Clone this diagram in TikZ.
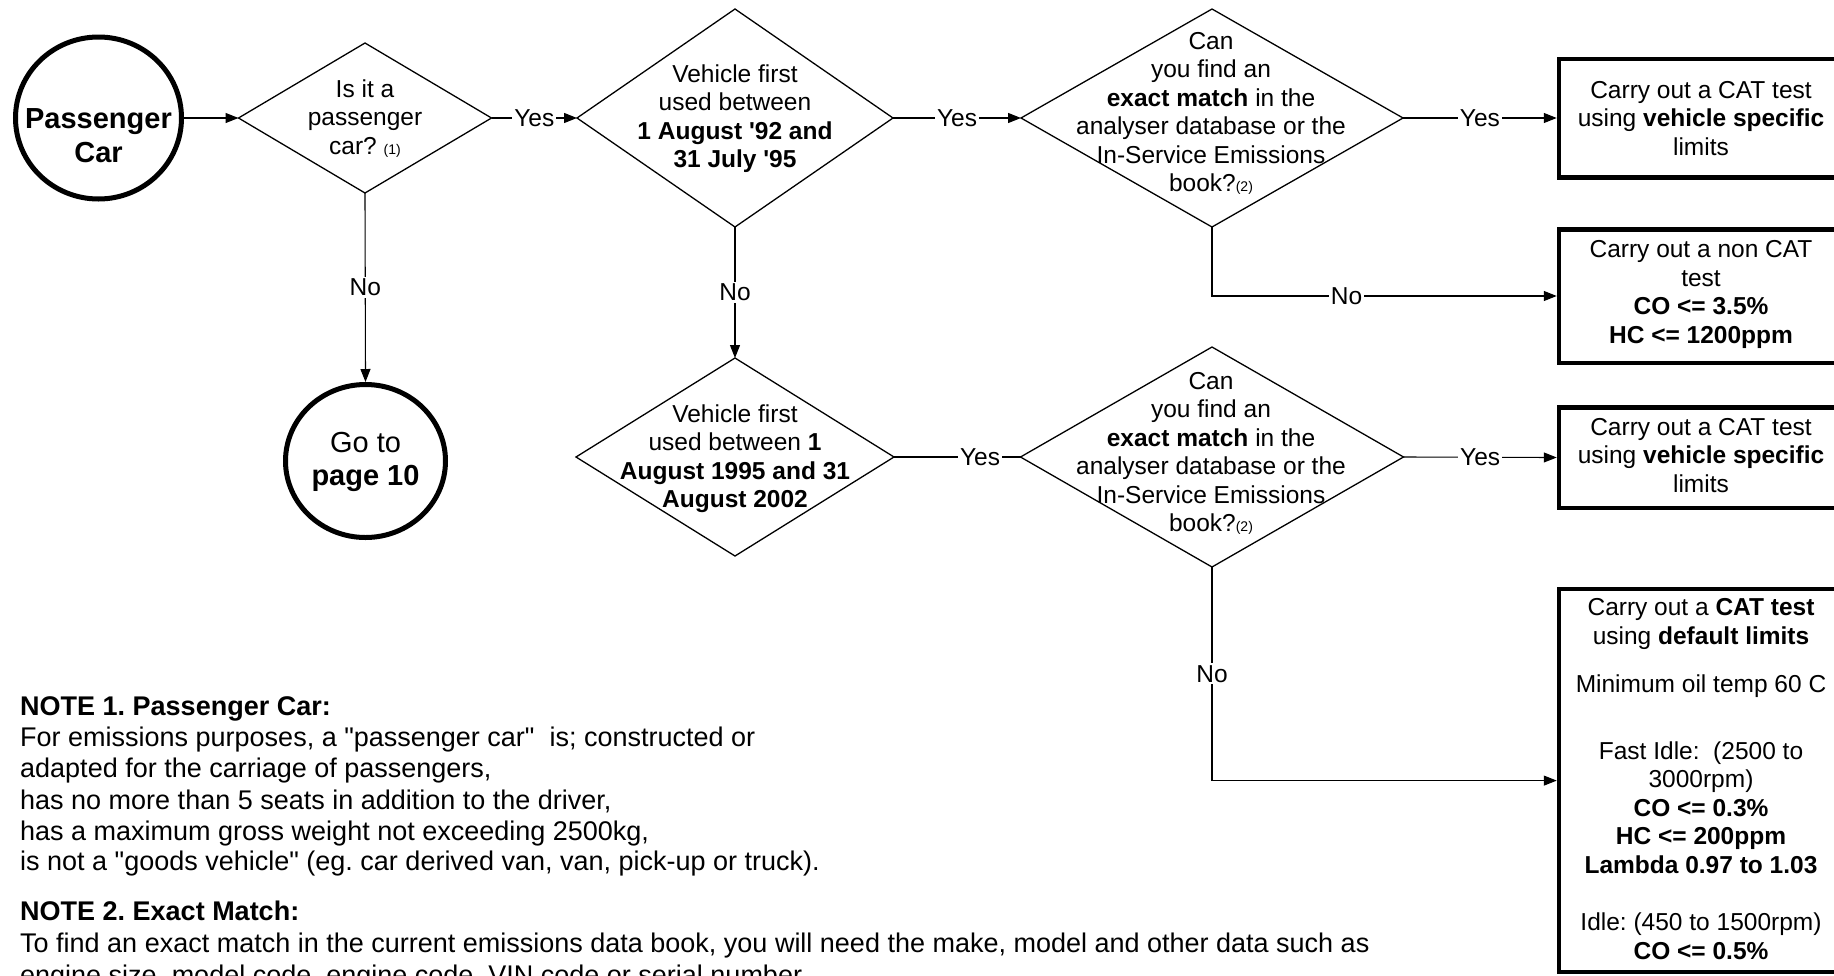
\documentclass[tikz,border=0pt]{standalone}
\usepackage{fontspec}
\setmainfont{Liberation Sans}[Ligatures=TeXOff]
\usetikzlibrary{shapes.geometric,arrows.meta}
\newcommand{\fsz}{\fontsize{24.5}{28.5}\selectfont}
\newcommand{\bigfsz}{\fontsize{29}{34}\selectfont}
\newcommand{\notefsz}{\fontsize{27}{31}\selectfont}
\newcommand{\smallref}[1]{{\fontsize{14}{14}\selectfont #1}}
\frenchspacing
\begin{document}
\begin{tikzpicture}[x=1pt,y=-1pt,font=\fsz,
  dia/.style={draw, diamond, line width=1.3pt, inner sep=0pt, outer sep=0pt},
  circ/.style={draw, ellipse, line width=5pt, inner sep=0pt},
  bx/.style={draw, rectangle, line width=4.5pt, inner sep=0pt},
  txt/.style={align=center, inner sep=0pt},
  notetxt/.style={anchor=base west, inner sep=0pt, font=\notefsz},
  conn/.style={line width=1.1pt, -{Triangle[length=13pt,width=10pt]}},
  plainconn/.style={line width=1.1pt},
  lbl/.style={fill=white, inner sep=2pt, font=\fsz}]
\useasboundingbox (0,0) rectangle (1834,975);
\clip (0,0) rectangle (1834,975);
\fill[white] (0,0) rectangle (1834,975);

% start / end circles
\node[circ, minimum width=166pt, minimum height=162pt] (pc) at (98.5,118) {};
\node[txt, font=\bigfsz\bfseries] (pct) at (98.5,136) {Passenger\\Car};
\node[circ, minimum width=160pt, minimum height=153pt] (go) at (365.5,461) {};
\node[txt, font=\fontsize{29}{33}\selectfont] (got) at (365.5,461.5) {Go to\\\textbf{page 10}};

% diamonds
\node[dia, minimum width=253pt, minimum height=150pt] (d1) at (365,118) {};
\node[dia, minimum width=316pt, minimum height=218pt] (d2) at (735,118) {};
\node[dia, minimum width=382pt, minimum height=218pt] (d3) at (1212,118) {};
\node[dia, minimum width=318pt, minimum height=198pt] (d4) at (735,457) {};
\node[dia, minimum width=383pt, minimum height=220pt] (d5) at (1212,457) {};

\node[txt] (t1) at (365,118.5) {Is it a\\passenger\\car? \smallref{(1)}};
\node[txt] (t2) at (735,118.5) {Vehicle first\\used between\\\textbf{1 August '92 and}\\\textbf{31 July '95}};
\node[txt] (t3) at (1211,113.5) {Can\\you find an\\\textbf{exact match} in the\\analyser database or the\\In-Service Emissions\\book?\smallref{(2)}};
\node[txt] (t4) at (735,458.5) {Vehicle first\\used between \textbf{1}\\\textbf{August 1995 and 31}\\\textbf{August 2002}};
\node[txt] (t5) at (1211,453.5) {Can\\you find an\\\textbf{exact match} in the\\analyser database or the\\In-Service Emissions\\book?\smallref{(2)}};

% result boxes (extend beyond the right edge)
\node[bx, minimum width=290pt, minimum height=118.5pt] (b1) at (1704,118) {};
\node[bx, minimum width=290pt, minimum height=133.5pt] (b2) at (1704,296) {};
\node[bx, minimum width=290pt, minimum height=100.5pt] (b3) at (1704,457.5) {};
\node[bx, minimum width=290pt, minimum height=382.75pt] (b4) at (1704,780.6) {};

\node[txt] (tb1) at (1701,118.5) {Carry out a CAT test\\using \textbf{vehicle specific}\\limits};
\node[txt] (tb2) at (1701,294.5) {Carry out a non CAT\\test\\\textbf{CO <= 3.5\%}\\\textbf{HC <= 1200ppm}};
\node[txt] (tb3) at (1701,455.5) {Carry out a CAT test\\using \textbf{vehicle specific}\\limits};
\node[txt] (tb4) at (1701,779) {Carry out a \textbf{CAT test}\\using \textbf{default limits}\\[20pt]Minimum oil temp 60 C\\[38pt]Fast Idle:\ \ (2500 to\\3000rpm)\\\textbf{CO <= 0.3\%}\\\textbf{HC <= 200ppm}\\\textbf{Lambda 0.97 to 1.03}\\[29pt]Idle: (450 to 1500rpm)\\\textbf{CO <= 0.5\%}};

% connectors
\draw[conn] (pc.east) -- (d1.west);
\draw[conn] (d1.east) -- node[lbl] (y1) {Yes} (d2.west);
\draw[conn] (d2.east) -- node[lbl] (y2) {Yes} (d3.west);
\draw[conn] (d3.east) -- node[lbl] (y3) {Yes} (b1.west);
\draw[conn] (d1.south) -- node[lbl] (n1) {No} (go.north);
\draw[conn] (d2.south) -- node[lbl] (n2) {No} (d4.north);
\draw[conn] (d3.south) |- node[lbl, pos=0.695] (n3) {No} (b2.west);
\draw[plainconn] (d4.east) -- node[lbl, pos=0.68] (y4) {Yes} (d5.west);
\draw[conn] (d5.east) -- node[lbl] (y5) {Yes} (b3.west);
\draw[conn] (d5.south) |- node[lbl, pos=0.25] (n4) {No} (b4.west);

% notes
\node[notetxt] (nt1) at (20,715) {\textbf{NOTE 1. Passenger Car:}};
\node[notetxt] (nt2) at (20,746) {For emissions purposes, a "passenger car"\ \ is; constructed or};
\node[notetxt] (nt3) at (20,777) {adapted for the carriage of passengers,};
\node[notetxt] (nt4) at (20,809) {has no more than 5 seats in addition to the driver,};
\node[notetxt] (nt5) at (20,840) {has a maximum gross weight not exceeding 2500kg,};
\node[notetxt] (nt6) at (20,870) {is not a "goods vehicle" (eg. car derived van, van, pick-up or truck).};
\node[notetxt] (nt7) at (20,920) {\textbf{NOTE 2. Exact Match:}};
\node[notetxt] (nt8) at (20,952) {To find an exact match in the current emissions data book, you will need the make, model and other data such as};
\node[notetxt] (nt9) at (20,984) {engine size, model code, engine code, VIN code or serial number.};
\end{tikzpicture}
\end{document}
